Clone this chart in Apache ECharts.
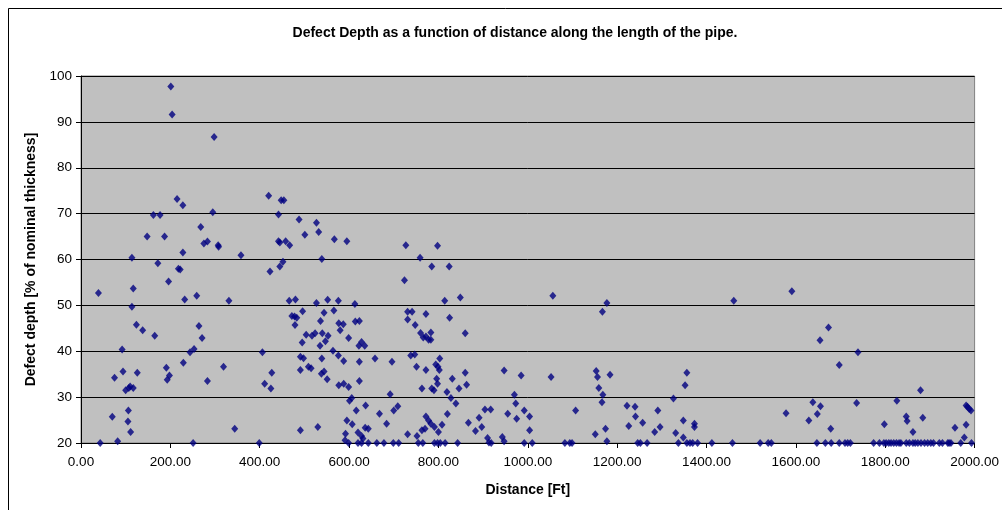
<!DOCTYPE html>
<html>
<head>
<meta charset="utf-8">
<script src="https://cdn.jsdelivr.net/npm/echarts@6/dist/echarts.min.js"></script>
<style>
  html, body { margin: 0; padding: 0; background: #fff; }
  #chart { width: 1002px; height: 510px; }
</style>
</head>
<body>
<div id="chart"></div>
<script>
// defect readings, [distance ft, depth %], grouped by stretch of pipe
const defects0to250 = [
  [39,52.7],[43,20],[70,25.7],[75,34.2],[82,20.4],[92,40.4],[94,35.6],[100,31.5],[106,27.1],[105,24.7],
  [111,22.4],[107,32.0],[110,32.3],[117,32.0],[114,60.4],[117,53.7],[114,49.7],[124,45.8],[138,44.6],[126,35.3],
  [148,65],[162,69.7],[177,69.7],[165,43.4],[172,59.2],[187,65],[191,36.4],[193,33.8],[198,34.7],[196,55.2],
  [201,97.7],[204,91.6],[215,73.2],[228,71.8],[228,61.5],[218,58],[222,57.8],[232,51.3],[229,37.5],[244,39.8]
];
const defects250to510 = [
  [251,20],[259,52.1],[264,45.5],[271,42.9],[268,67.1],[275,63.5],[283,63.9],[253,40.5],[283,33.5],[295,70.3],
  [298,86.7],[307,63.1],[308,62.8],[319,36.6],[331,51],[344,23.1],[358,60.9],[399,20],[406,39.8],[411,32.9],
  [420,73.9],[423,57.4],[427,35.3],[425,31.9],[442,69.8],[448,72.9],[454,72.9],[442,64],[445,63.7],[458,64],
  [467,63.1],[445,58.5],[452,59.5],[466,51],[480,51.3],[472,47.7],[478,47.6],[483,47.3],[479,45.7],[488,68.7],
  [496,48.7],[501,65.4],[504,43.6],[495,41.9],[491,38.8],[498,38.5],[491,35.9],[509,36.6],[491,22.8]
];
const defects510to760 = [
  [527,68],[532,66],[539,60.1],[567,64.4],[595,64],[527,50.5],[552,51.2],[576,51],[613,50.3],[544,48.4],
  [536,46.6],[566,48.9],[524,43.9],[540,43.9],[553,43.4],[517,43.4],[547,42.2],[535,41.2],[577,46.1],[587,45.9],
  [580,44.6],[599,42.9],[614,46.5],[623,46.6],[628,42],[622,41.2],[635,41.2],[564,40.1],[576,39.1],[588,37.9],
  [539,38.4],[515,36.3],[538,35.1],[544,35.6],[551,33.9],[577,32.6],[588,32.9],[599,32.2],[623,37.7],[623,33.5],
  [658,38.4],[696,37.7],[601,29.2],[606,29.8],[616,27.1],[637,28.2],[692,30.6],[709,28],[700,27.1],[668,26.4],
  [595,24.9],[607,24.1],[684,24.2],[592,22],[591,20.6],[620,22.3],[628,21.5],[631,21],[636,23.3],[643,23.1],
  [628,20],[620,20],[643,20],[662,20],[678,20],[699,20],[711,20],[599,20],[530,23.5],[727,63.1],
  [759,60.4],[724,55.5],[731,48.6],[741,48.6],[731,46.9],[748,45.7],[738,39.1],[747,39.3],[751,36.6],[731,21.9],
  [752,21.5],[755,20]
];
const defects760to1050 = [
  [772,48.1],[772,35.9],[763,31.9],[765,20],
  [798,63],[785,58.5],[824,58.5],[814,51],[849,51.7],[825,47.3],[860,43.9],[760,44],[766,43],[772,43.2],
  [778,42.5],[783,42.5],[783,44.1],[803,38.4],[794,37.1],[799,36.6],[802,35.9],[796,34],[798,32.9],[831,34],
  [860,35.3],[863,32.7],[846,31.9],[785,31.9],[790,31.5],[819,31.1],[828,29.8],[839,28.6],[820,26.3],[772,25.8],
  [778,24.9],[783,24.2],[791,23.5],[763,22.8],[770,23.1],[800,22.4],[808,24],[867,24.4],[883,22.6],[891,25.5],
  [897,23.5],[904,27.3],[917,27.3],[910,21.1],[913,20.1],[918,20],[947,35.8],[985,34.7],[970,30.5],[973,28.6],
  [955,26.4],[975,25.3],[992,27.1],[1004,25.8],[1004,22.8],[943,21.3],[947,20.4],[992,20],[1010,20],[791,20],
  [798,20],[804,20],[815,20],[843,20]
];
const defects1050to1600 = [
  [1052,34.4],[1056,52.1],[1083,20],[1094,20],[1099,20],[1107,27.1],[1151,21.9],[1153,35.7],[1156,34.4],[1159,32],
  [1168,30.5],[1166,28.9],[1167,48.6],[1177,50.5],[1184,34.9],[1174,23.1],[1177,20.4],[1222,28.1],[1240,27.9],[1241,25.8],
  [1226,23.7],[1257,24.4],[1246,20],[1252,20],[1267,20],[1291,27.1],[1284,22.4],[1296,23.5],
  [1326,29.7],[1356,35.3],[1352,32.6],[1348,24.9],[1331,22.2],[1348,21.2],[1337,20],[1356,20],[1363,20],[1369,20],
  [1380,20],[1373,24.2],[1373,23.5],[1412,20],[1461,51],[1458,20],[1520,20],[1538,20],[1545,20],[1578,26.5],
  [1591,53.1]
];
const defects1600to2000 = [
  [1629,24.9],[1638,28.9],[1648,26.3],[1655,28],[1654,42.4],[1673,45.2],[1678,23.1],[1697,37],[1739,39.8],[1736,28.7],
  [1647,20],[1666,20],[1679,20],[1697,20],[1710,20],[1716,20],[1722,20],[1774,20],[1787,20],[1797,20],
  [1802,20],[1808,20],[1813,20],[1819,20],[1825,20],[1831,20],[1798,24.1],[1826,29.2],[1847,25.8],[1849,24.8],
  [1862,22.4],[1879,31.5],[1884,25.5],[1956,23.3],[1981,24],[1977,21.2],[1981,28.2],[1984,27.9],[1988,27.4],[1992,27.1],
  [1969,20],[1993,20],[1835,20],[1847,20],[1854,20],[1862,20],[1867,20],[1873,20],[1880,20],[1888,20],
  [1895,20],[1902,20],[1908,20],[1921,20],[1928,20],[1940,20],[1943,20],[1947,20]
];

const allDefects = [].concat(defects0to250, defects250to510, defects510to760,
  defects760to1050, defects1050to1600, defects1600to2000);

const chart = echarts.init(document.getElementById('chart'), null, {renderer: 'canvas'});
const font = 'Arial, "Liberation Sans", sans-serif';

chart.setOption({
  animation: false,
  backgroundColor: '#fff',
  textStyle: {fontFamily: font},
  title: {
    text: 'Defect Depth as a function of distance along the length of the pipe.',
    left: 510, top: 21, textAlign: 'center',
    textStyle: {fontSize: 14, fontWeight: 'bold', color: '#000', fontFamily: font}
  },
  // outer chart frame
  graphic: [{
    type: 'rect', silent: true,
    shape: {x: 8.5, y: 8.5, width: 1010, height: 520},
    style: {fill: null, stroke: '#000', lineWidth: 1}
  }],
  grid: {
    left: 81, right: 25, top: 76, bottom: 67,
    show: true, backgroundColor: '#c0c0c0', borderColor: '#808080', borderWidth: 1
  },
  xAxis: {
    type: 'value', min: 0, max: 2000, interval: 200,
    name: 'Distance [Ft]', nameLocation: 'middle', nameGap: 40,
    nameTextStyle: {fontSize: 14, fontWeight: 'bold', color: '#000'},
    axisLine: {lineStyle: {color: '#000'}},
    axisTick: {show: true, length: 5, lineStyle: {color: '#000'}},
    axisLabel: {fontSize: 13.5, color: '#000', margin: 12, formatter: v => v.toFixed(2)},
    splitLine: {show: false}
  },
  yAxis: {
    type: 'value', min: 20, max: 100, interval: 10,
    name: 'Defect depth [% of nominal thickness]', nameLocation: 'middle', nameGap: 41,
    nameTextStyle: {fontSize: 14, fontWeight: 'bold', color: '#000'},
    axisLine: {show: true, lineStyle: {color: '#000'}},
    axisTick: {show: true, length: 5, lineStyle: {color: '#000'}},
    axisLabel: {fontSize: 13.5, color: '#000', margin: 9},
    splitLine: {show: true, lineStyle: {color: '#000', width: 1}}
  },
  series: [{
    type: 'scatter',
    symbol: 'diamond',
    symbolSize: [7, 8],
    itemStyle: {color: '#000080'},
    data: allDefects
  }]
});
</script>
</body>
</html>
